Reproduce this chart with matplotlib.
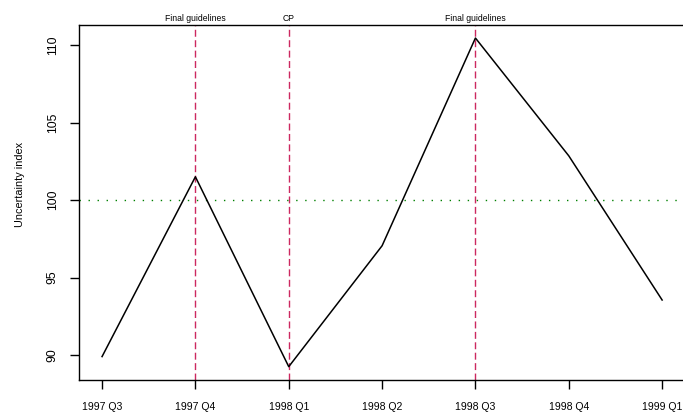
import matplotlib
matplotlib.use("Agg")
import matplotlib.pyplot as plt

quarters = ["1997 Q3", "1997 Q4", "1998 Q1", "1998 Q2", "1998 Q3", "1998 Q4", "1999 Q1"]
uncertainty = [89.9, 101.5, 89.25, 97.05, 110.45, 102.85, 93.55]
event_quarters = ["1997 Q4", "1998 Q1", "1998 Q3"]
event_labels = ["Final guidelines", "CP", "Final guidelines"]
baseline = 100

plt.rcParams['font.family'] = ['Liberation Sans', 'DejaVu Sans']

fig = plt.figure(figsize=(6.83, 4.12), dpi=100)
ax = fig.add_axes([79/683, 1 - 380/412, 1.02 - 79/683, (380 - 25)/412])

x = list(range(len(quarters)))
ax.plot(x, uncertainty, color='black', lw=1.1, zorder=3)
ax.axhline(baseline, color='#008000', lw=1.0, linestyle=(0, (1, 5.5)), zorder=2)
for q, lab in zip(event_quarters, event_labels):
    xi = quarters.index(q)
    ax.axvline(xi, color='#CC2860', lw=1.0, linestyle=(0, (5, 2.5)), zorder=2)
    ax.text(xi, 1.005, lab, transform=ax.get_xaxis_transform(), ha='center', va='bottom', fontsize=6.2)

ax.set_xlim(-0.247, 6.37)
ax.set_ylim(88.39, 111.29)
ax.set_xticks(x)
ax.set_xticklabels(quarters, fontsize=7.6)
ax.set_yticks([90, 95, 100, 105, 110])
ax.set_yticklabels(["90", "95", "100", "105", "110"], fontsize=8.8, rotation=90, va='center')
ax.tick_params(axis='both', direction='out', length=6.5, width=1.0)
ax.tick_params(axis='x', pad=9.5)
ax.tick_params(axis='y', pad=8)
ax.set_ylabel("Uncertainty index", fontsize=7.8)
ax.yaxis.set_label_coords(-0.088, 0.55)
ax.spines['right'].set_visible(False)
for s in ['left', 'top', 'bottom']:
    ax.spines[s].set_linewidth(1.0)

fig.savefig("out.png", dpi=100)
